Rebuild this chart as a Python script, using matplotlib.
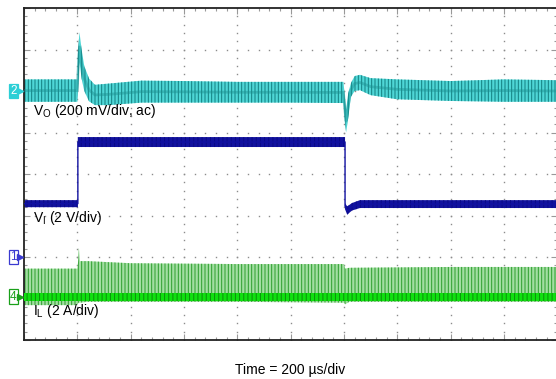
import numpy as np
import matplotlib
matplotlib.use('Agg')
import matplotlib.pyplot as plt
from matplotlib.ticker import MultipleLocator

plt.rcParams['font.family'] = ['Liberation Sans', 'DejaVu Sans']
plt.rcParams['mathtext.fontset'] = 'custom'
plt.rcParams['mathtext.rm'] = 'Liberation Sans'
plt.rcParams['hatch.linewidth'] = 0.7

# time in divisions (200 us/div), levels in divisions
# V_O envelope (200 mV/div, ac)
vo_t  = [0.00, 1.00, 1.01, 1.04, 1.08, 1.13, 1.22, 1.33, 1.60, 2.20, 3.00, 4.00, 5.00, 5.99, 6.02, 6.04, 6.08, 6.13, 6.20, 6.30, 6.50, 7.00, 8.00, 9.00, 10.0]
vo_hi = [6.28, 6.28, 6.90, 7.42, 7.00, 6.60, 6.30, 6.15, 6.18, 6.25, 6.24, 6.22, 6.22, 6.22, 5.80, 5.55, 5.95, 6.19, 6.36, 6.39, 6.31, 6.28, 6.24, 6.28, 6.26]
vo_lo = [5.74, 5.74, 5.90, 6.70, 6.30, 6.00, 5.75, 5.66, 5.66, 5.72, 5.72, 5.72, 5.72, 5.71, 5.20, 5.00, 5.35, 5.86, 6.00, 6.02, 5.90, 5.80, 5.76, 5.74, 5.74]

# V_I envelope (2 V/div)
vi_t  = [0.00, 1.01, 1.01, 6.02, 6.02, 6.06, 6.15, 6.30, 10.0]
vi_hi = [3.37, 3.37, 4.89, 4.89, 3.30, 3.22, 3.30, 3.37, 3.37]
vi_lo = [3.20, 3.20, 4.65, 4.65, 3.15, 3.02, 3.12, 3.18, 3.18]

# I_L (2 A/div): switching spikes and dc band
il_t    = [0.00, 1.00, 1.02, 1.03, 1.05, 1.20, 2.00, 4.00, 6.00, 6.02, 6.10, 8.00, 10.0]
il_top  = [1.72, 1.72, 1.95, 2.22, 1.90, 1.90, 1.85, 1.83, 1.83, 1.72, 1.74, 1.76, 1.76]
il_bot  = [0.84, 0.84, 0.90, 0.90, 0.90, 0.92, 0.92, 0.92, 0.90, 0.86, 0.92, 0.92, 0.92]
il_band_hi = [1.13] * len(il_t)
il_band_lo = [0.95] * len(il_t)

# channel reference markers
ch_names = ['2', '1', '4']
ch_levels = [6.0, 2.0, 1.04]
ch_colors = ['#2ccfd6', '#3a3ad0', '#1aa01a']

fig = plt.figure(figsize=(5.56, 3.79), dpi=100)
ax = fig.add_axes([24 / 556, 39 / 379, 533.3 / 556, 332 / 379])
ax.set_xlim(0, 10)
ax.set_ylim(0, 8)

# graticule dots
gx = np.arange(0, 10.01, 0.2)
gy = np.arange(0, 8.01, 0.2)
for v in range(1, 10):
    ax.plot(np.full_like(gy, v), gy, ls='none', marker='s', ms=1.0, mew=0, color='0.55', zorder=0)
for v in range(1, 8):
    ax.plot(gx, np.full_like(gx, v), ls='none', marker='s', ms=1.0, mew=0, color='0.55', zorder=0)

# V_O
ax.fill_between(vo_t, vo_lo, vo_hi, facecolor='#4fd6d6', edgecolor='#137f80', hatch='|||||', lw=0, zorder=2)
vo_mid = (np.array(vo_hi) + np.array(vo_lo)) / 2
ax.plot(vo_t, vo_mid, color='#1a8f90', lw=2.0, alpha=0.45, zorder=3)

# V_I
ax.fill_between(vi_t, vi_lo, vi_hi, facecolor='#12129e', edgecolor='#0a0a86', hatch='||||', lw=0, zorder=2)
vi_mid = (np.array(vi_hi) + np.array(vi_lo)) / 2
ax.plot(vi_t, vi_mid, color='#1010a0', lw=1.0, zorder=3)

# I_L
ax.fill_between(il_t, il_bot, il_top, facecolor='#a2dea2', edgecolor='#2c9e2c', hatch='|||||', lw=0, zorder=2)
ax.fill_between(il_t, il_band_lo, il_band_hi, facecolor='#10e010', edgecolor='#0a8f0a', hatch='||||', lw=0, zorder=3)

# labels on the traces
ax.text(0.17, 5.52, r'V$_\mathrm{O}$ (200 mV/div, ac)', fontsize=10, va='center', ha='left', zorder=5)
ax.text(0.17, 2.94, r'V$_\mathrm{I}$ (2 V/div)', fontsize=10, va='center', ha='left', zorder=5)
ax.text(0.17, 0.70, r'I$_\mathrm{L}$ (2 A/div)', fontsize=10, va='center', ha='left', zorder=5)

for name, lev, col in zip(ch_names, ch_levels, ch_colors):
    filled = name == '2'
    ax.text(-0.2, lev, name, fontsize=8.5, ha='center', va='center', clip_on=False,
            color='white' if filled else col,
            bbox=dict(boxstyle='square,pad=0.12', fc=col if filled else 'white', ec=col, lw=0.9))
    ax.plot([-0.07], [lev], marker='>', ms=4.5, color=col, clip_on=False, zorder=5)

fig.text(290 / 556, 1 - 370 / 379, 'Time = 200 µs/div', fontsize=10, ha='center', va='center')

ax.xaxis.set_major_locator(MultipleLocator(1))
ax.yaxis.set_major_locator(MultipleLocator(1))
ax.xaxis.set_minor_locator(MultipleLocator(0.2))
ax.yaxis.set_minor_locator(MultipleLocator(0.2))
ax.tick_params(which='both', direction='in', top=True, right=True, labelbottom=False, labelleft=False, color='0.6')
ax.tick_params(which='major', length=4, width=0.8)
ax.tick_params(which='minor', length=2.5, width=0.8)
for s in ax.spines.values():
    s.set_color('#222222')
    s.set_linewidth(1.3)

fig.savefig('out.png', dpi=100)
